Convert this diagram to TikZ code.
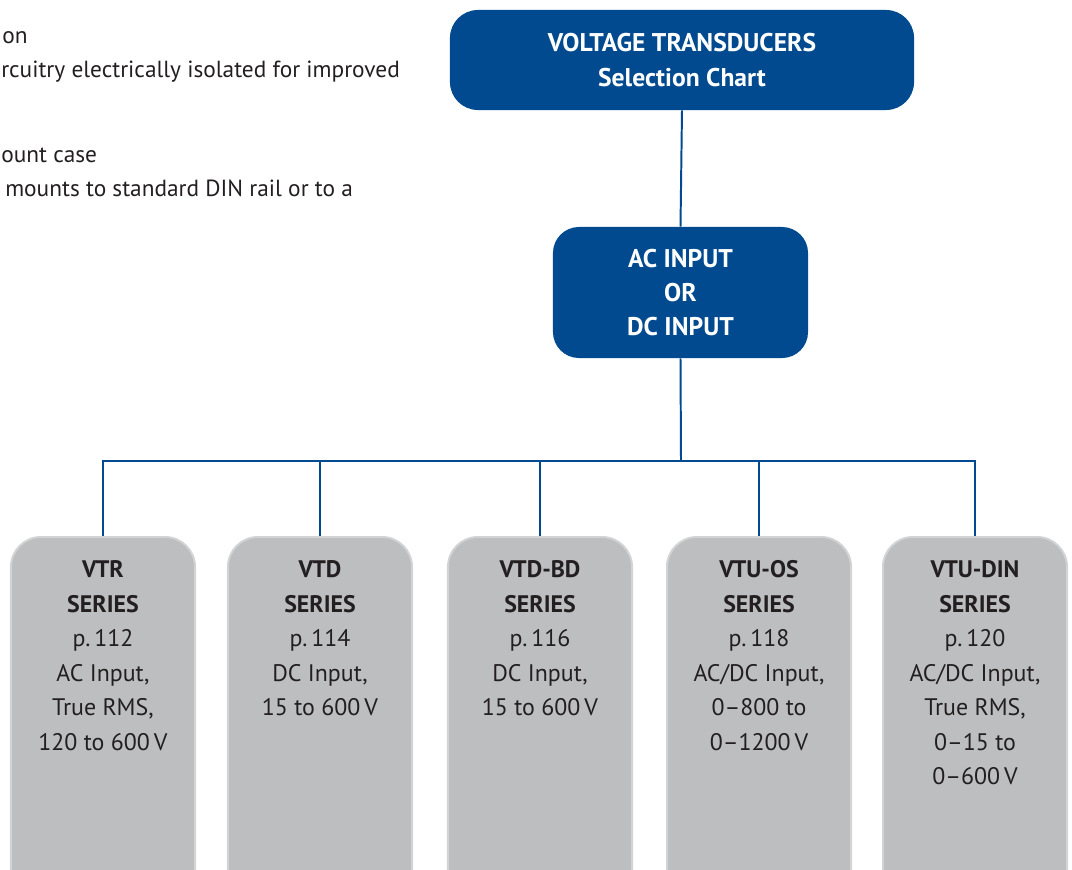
\documentclass[tikz,border=0pt]{standalone}
\usepackage{fontspec}
\setmainfont{PT Sans}
\usetikzlibrary{positioning}
\definecolor{chartblue}{HTML}{014A8F}
\definecolor{seriesgray}{HTML}{BCBEC0}
\definecolor{seriesedge}{HTML}{D1D3D4}
\definecolor{inktext}{HTML}{231F20}
\tikzset{
  head box/.style={
    rectangle,
    rounded corners=0.7cm,
    fill=chartblue,
    text=white,
    font=\fontsize{18.2}{24.5}\selectfont\bfseries,
    align=center,
    inner sep=0pt
  },
  series box/.style={
    rectangle,
    rounded corners=0.75cm,
    fill=seriesgray,
    draw=seriesedge,
    line width=1.4pt,
    text=inktext,
    inner sep=0pt,
    anchor=north
  },
  link/.style={
    draw=chartblue,
    line width=1.4pt
  },
  side text/.style={
    anchor=base west,
    text=inktext,
    font=\fontsize{16.6}{24.5}\selectfont,
    inner sep=0pt
  }
}
\newcommand{\seriestext}[2]{%
  \begin{minipage}[t][12cm][t]{4.6cm}\centering
    \fontsize{17}{24.5}\selectfont
    \rule{0pt}{29pt}\textbf{#1}\\ \textbf{SERIES}\\ #2
  \end{minipage}}

\begin{document}
\begin{tikzpicture}[x=0.025cm, y=-0.025cm]

  %% ---- page frame ----
  \useasboundingbox (0,0) rectangle (1072,869);
  \clip (0,0) rectangle (1072,869);

  %% ---- cut-off text on the left ----
  \node[side text] (cut1) at (2,43)  {on};
  \node[side text] (cut2) at (1,77)  {rcuitry electrically isolated for improved};
  \node[side text] (cut3) at (1,162) {ount case};
  \node[side text] (cut4) at (5,196) {mounts to standard DIN rail or to a};

  %% ---- head boxes ----
  \node[head box, minimum width=11.6cm, minimum height=2.5cm] (title) at (682,60)
      {VOLTAGE TRANSDUCERS\\Selection Chart};
  \node[head box, minimum width=6.375cm, minimum height=3.275cm, rounded corners=0.65cm]
      (input) at (680.5,292.5) {AC INPUT\\OR\\DC INPUT};

  %% ---- series boxes ----
  \node[series box] (vtr)   at (103,536) {\seriestext{VTR}{p.\,112\\AC Input,\\True RMS,\\120 to 600\,V}};
  \node[series box] (vtd)   at (320,536) {\seriestext{VTD}{p.\,114\\DC Input,\\15 to 600\,V}};
  \node[series box] (vtdbd) at (540,536) {\seriestext{VTD-BD}{p.\,116\\DC Input,\\15 to 600\,V}};
  \node[series box] (vtuos) at (759,536) {\seriestext{VTU-OS}{p.\,118\\AC/DC Input,\\0--800 to\\0--1200\,V}};
  \node[series box] (vtudin) at (975,536) {\seriestext{VTU-DIN}{p.\,120\\AC/DC Input,\\True RMS,\\0--15 to\\0--600\,V}};

  %% ---- connectors ----
  \coordinate (bus) at (681,461);
  \draw[link] (title.south) -- (input.north);
  \draw[link] (input.south) -- (bus);
  \foreach \s in {vtr, vtd, vtdbd, vtuos, vtudin}
    \draw[link] (bus) -| (\s.north);

\end{tikzpicture}
\end{document}
